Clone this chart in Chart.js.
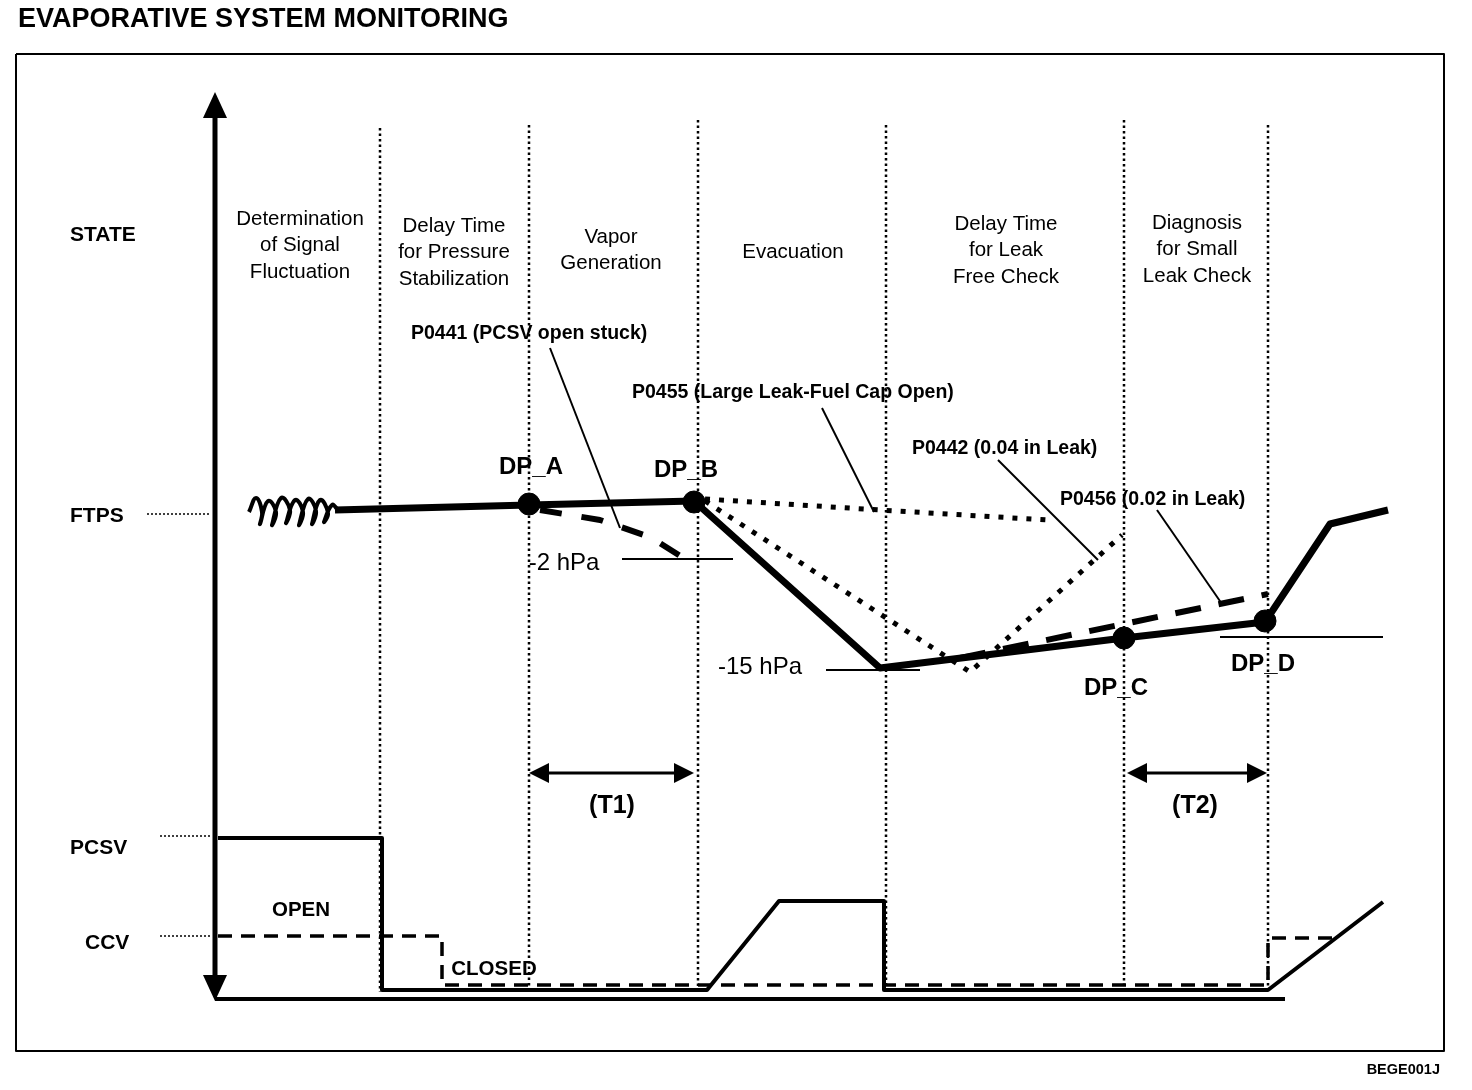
<!DOCTYPE html>
<html>
<head>
<meta charset="utf-8">
<title>Evaporative System Monitoring</title>
<script src="https://cdn.jsdelivr.net/npm/chart.js@4.4.1/dist/chart.umd.min.js"></script>
<style>
  body { margin: 0; background: #fff; }
  #wrap { width: 1472px; height: 1090px; }
</style>
</head>
<body>
<div id="wrap"><canvas id="chart" width="1472" height="1090"></canvas></div>
<script>
// diagram units: x = time axis, y = signal level (drawn top-down)
const phaseBounds = [380, 529, 698, 886, 1124, 1268];

// FTPS (fuel tank pressure) trace
const ftpsX = [335, 529, 694, 880, 1124, 1265, 1330, 1388];
const ftpsY = [510, 505, 501, 668, 638, 622, 524, 510];
// signal fluctuation at start
const noiseX = [249, 256, 262, 260, 268, 276, 272, 281, 290, 286, 295, 303, 299, 308, 316, 312, 320, 328, 324, 332, 338];
const noiseY = [512, 498, 512, 524, 501, 512, 525, 498, 510, 523, 500, 512, 525, 499, 511, 524, 500, 513, 522, 505, 510];

// fault cases
const p0441X = [540, 600, 650, 690];
const p0441Y = [510, 520, 537, 562];
const p0455X = [705, 880, 1048];
const p0455Y = [499, 510, 520];
const p0442X = [705, 970, 1122];
const p0442Y = [501, 672, 535];
const p0456X = [960, 1268];
const p0456Y = [658, 594];

// check points
const dpNames = ['DP_A', 'DP_B', 'DP_C', 'DP_D'];
const dpX = [529, 694, 1124, 1265];
const dpY = [504, 502, 638, 621];

// valves
const pcsvX = [218, 382, 382, 707, 779, 884, 884, 1268, 1383];
const pcsvY = [838, 838, 990, 990, 901, 901, 990, 990, 902];
const ccvX = [218, 442, 442, 1268, 1268, 1334];
const ccvY = [936, 936, 985, 985, 938, 938];

const phaseNames = [
  ['Determination', 'of Signal', 'Fluctuation'],
  ['Delay Time', 'for Pressure', 'Stabilization'],
  ['Vapor', 'Generation'],
  ['Evacuation'],
  ['Delay Time', 'for Leak', 'Free Check'],
  ['Diagnosis', 'for Small', 'Leak Check']
];
const stateNames = ['STATE', 'FTPS', 'PCSV', 'CCV'];
const faultNames = ['P0441 (PCSV open stuck)', 'P0455 (Large Leak-Fuel Cap Open)', 'P0442 (0.04 in Leak)', 'P0456 (0.02 in Leak)'];
const pressureMarks = ['-2 hPa', '-15 hPa'];
const timerNames = ['(T1)', '(T2)'];
const valveStates = ['OPEN', 'CLOSED'];

const pts = (xs, ys) => xs.map((x, i) => ({x: x, y: ys[i]}));
const seg = (x1, y1, x2, y2) => [{x: x1, y: y1}, {x: x2, y: y2}];

function line(data, width, dash, extra) {
  return Object.assign({
    type: 'scatter', showLine: true, data: data,
    borderColor: '#000', backgroundColor: '#000',
    borderWidth: width, borderDash: dash || [],
    pointRadius: 0, tension: 0,
    borderJoinStyle: 'round', borderCapStyle: 'butt'
  }, extra || {});
}

const datasets = [];
// check point dots
datasets.push({type: 'scatter', data: pts(dpX, dpY), pointRadius: 11, backgroundColor: '#000', borderColor: '#000'});
datasets.push(line(pts(ftpsX, ftpsY), 7));
datasets.push(line(pts(noiseX, noiseY), 4, [], {tension: 0.45}));
datasets.push(line(pts(p0441X, p0441Y), 6, [22, 20]));
datasets.push(line(pts(p0455X, p0455Y), 5, [5, 9]));
datasets.push(line(pts(p0442X, p0442Y), 5, [5, 9]));
datasets.push(line(pts(p0456X, p0456Y), 6, [26, 18]));
datasets.push(line(pts(pcsvX, pcsvY), 4));
datasets.push(line(pts(ccvX, ccvY), 3.5, [14, 9]));
// phase boundaries
const boundTop = [128, 125, 120, 125, 120, 125];
phaseBounds.forEach((x, i) => datasets.push(line(seg(x, boundTop[i], x, 992), 2.5, [2.5, 3])));
// axes and frame
datasets.push(line(seg(215, 112, 215, 978), 5));
datasets.push(line(seg(215, 999, 1285, 999), 4));
datasets.push(line([{x: 16, y: 54}, {x: 1444, y: 54}, {x: 1444, y: 1051}, {x: 16, y: 1051}, {x: 16, y: 54}], 2));
// state leaders
datasets.push(line(seg(147, 514, 210, 514), 1.5, [2, 2]));
datasets.push(line(seg(160, 836, 210, 836), 1.5, [2, 2]));
datasets.push(line(seg(160, 936, 210, 936), 1.5, [2, 2]));
// reference lines
datasets.push(line(seg(622, 559, 733, 559), 2));
datasets.push(line(seg(826, 670, 920, 670), 2));
datasets.push(line(seg(1220, 637, 1383, 637), 2));
// label leaders
datasets.push(line(seg(550, 348, 620, 528), 2));
datasets.push(line(seg(822, 408, 874, 512), 2));
datasets.push(line(seg(998, 460, 1098, 560), 2));
datasets.push(line(seg(1157, 510, 1222, 604), 2));
// timer spans
datasets.push(line(seg(540, 773, 683, 773), 3));
datasets.push(line(seg(1138, 773, 1256, 773), 3));

const FONT = '"Liberation Sans", Arial, Helvetica, sans-serif';

const diagramText = {
  id: 'diagramText',
  beforeDraw(chart) {
    const c = chart.ctx;
    c.save();
    c.fillStyle = '#fff';
    c.fillRect(0, 0, chart.width, chart.height);
    c.restore();
  },
  afterDatasetsDraw(chart) {
    const c = chart.ctx;
    const sx = chart.scales.x, sy = chart.scales.y;
    const X = v => sx.getPixelForValue(v), Y = v => sy.getPixelForValue(v);

    function text(t, x, y, font, align) {
      c.font = font;
      c.textAlign = align || 'center';
      c.textBaseline = 'middle';
      c.fillStyle = '#000';
      c.fillText(t, X(x), Y(y));
    }
    function head(tx, ty, dx, dy, len, half) {
      // arrow head with tip (tx,ty) pointing along (dx,dy)
      const bx = tx - dx * len, by = ty - dy * len;
      c.beginPath();
      c.moveTo(X(tx), Y(ty));
      c.lineTo(X(bx - dy * half), Y(by + dx * half));
      c.lineTo(X(bx + dy * half), Y(by - dx * half));
      c.closePath();
      c.fillStyle = '#000';
      c.fill();
    }

    c.save();
    // arrow heads
    head(215, 92, 0, -1, 26, 12);
    head(215, 1001, 0, 1, 26, 12);
    head(529, 773, -1, 0, 20, 10);
    head(694, 773, 1, 0, 20, 10);
    head(1127, 773, -1, 0, 20, 10);
    head(1267, 773, 1, 0, 20, 10);

    text('EVAPORATIVE SYSTEM MONITORING', 18, 20, 'bold 27px ' + FONT, 'left');

    const phaseCx = [300, 454, 611, 793, 1006, 1197];
    const phaseTop = [219, 226, 237, 252, 224, 223];
    phaseNames.forEach((lines, i) => {
      lines.forEach((t, j) => text(t, phaseCx[i], phaseTop[i] + j * 26.5, '20.5px ' + FONT));
    });

    const stateX = [70, 70, 70, 85];
    const stateY = [235, 516, 848, 943];
    stateNames.forEach((t, i) => text(t, stateX[i], stateY[i], 'bold 21px ' + FONT, 'left'));

    const faultX = [411, 632, 912, 1060];
    const faultY = [334, 393, 449, 500];
    faultNames.forEach((t, i) => text(t, faultX[i], faultY[i], 'bold 19.5px ' + FONT, 'left'));

    const dpLx = [531, 686, 1116, 1263];
    const dpLy = [467, 470, 688, 664];
    dpNames.forEach((t, i) => text(t, dpLx[i], dpLy[i], 'bold 24px ' + FONT));

    text(pressureMarks[0], 564, 563, '24px ' + FONT);
    text(pressureMarks[1], 760, 667, '24px ' + FONT);
    text(timerNames[0], 612, 806, 'bold 25px ' + FONT);
    text(timerNames[1], 1195, 806, 'bold 25px ' + FONT);
    text(valveStates[0], 301, 910, 'bold 20.5px ' + FONT);
    text(valveStates[1], 494, 969, 'bold 20.5px ' + FONT);
    text('BEGE001J', 1440, 1070, 'bold 14.5px ' + FONT, 'right');
    c.restore();
  }
};

new Chart(document.getElementById('chart'), {
  type: 'scatter',
  data: {datasets: datasets},
  options: {
    responsive: false,
    animation: false,
    devicePixelRatio: 1,
    layout: {padding: 0, autoPadding: false},
    scales: {
      x: {type: 'linear', min: 0, max: 1472, display: false},
      y: {type: 'linear', min: 0, max: 1090, reverse: true, display: false}
    },
    plugins: {legend: {display: false}, tooltip: {enabled: false}}
  },
  plugins: [diagramText]
});
</script>
</body>
</html>
